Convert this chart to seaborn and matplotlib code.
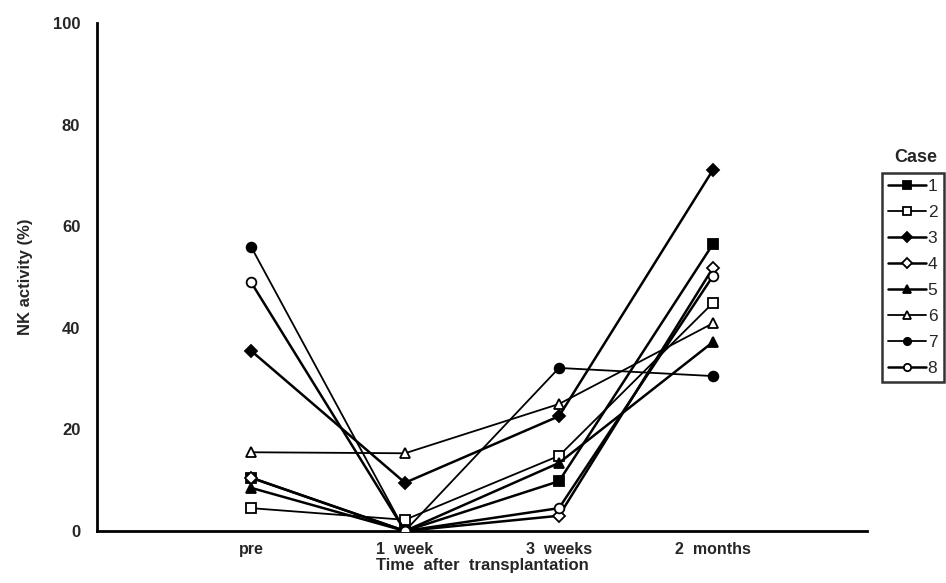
import matplotlib
matplotlib.use("Agg")
import matplotlib.pyplot as plt
import seaborn as sns
import pandas as pd

# ---- data ----
times = ["pre", "1  week", "3  weeks", "2  months"]
cases = ["1", "2", "3", "4", "5", "6", "7", "8"]
case1 = [10.5, 0.0, 9.8, 56.5]
case2 = [4.5, 2.2, 14.8, 44.9]
case3 = [35.5, 9.5, 22.6, 71.1]
case4 = [10.5, 0.0, 3.0, 51.8]
case5 = [8.5, 0.0, 13.4, 37.2]
case6 = [15.5, 15.3, 25.0, 40.9]
case7 = [56.0, 0.0, 32.1, 30.5]
case8 = [49.0, 0.0, 4.5, 50.2]
values = [case1, case2, case3, case4, case5, case6, case7, case8]

markers = ["s", "s", "D", "D", "^", "^", "o", "o"]
filled = [True, False, True, False, True, False, True, False]
widths = [1.8, 1.3, 1.8, 1.8, 1.8, 1.3, 1.3, 1.8]

rows = []
for c, vals in zip(cases, values):
    for t, v in zip(times, vals):
        rows.append({"case": c, "time": t, "nk": v})
df = pd.DataFrame(rows)

sns.set_style("white")
plt.rcParams["font.family"] = ["Liberation Sans", "DejaVu Sans"]

fig = plt.figure(figsize=(9.46, 5.83), dpi=100)
ax = fig.add_axes([0.1025, 0.0892, 0.814, 0.8713])

for i, c in enumerate(cases):
    sub = df[df["case"] == c]
    sns.lineplot(data=sub, x="time", y="nk", ax=ax, color="black",
                 linewidth=widths[i], marker=markers[i],
                 markersize=7 if markers[i] != "D" else 6.5,
                 markerfacecolor="black" if filled[i] else "white",
                 markeredgecolor="black", markeredgewidth=1.3,
                 label=c, sort=False, zorder=3)

if ax.get_legend() is not None:
    ax.get_legend().remove()

ax.set_xlim(-1, 4)
ax.set_ylim(0, 100)
ax.set_xticks([0, 1, 2, 3, 4])
ax.set_xticklabels(times + [""], fontsize=11.5, fontweight="bold")
ax.set_yticks([0, 20, 40, 60, 80, 100])
ax.set_yticklabels(["0", "20", "40", "60", "80", "100"], fontsize=12, fontweight="bold")
ax.tick_params(axis="both", direction="in", length=5, width=1.8, color="black")
ax.tick_params(axis="x", pad=8)
ax.tick_params(axis="y", pad=12)

for s in ["top", "right"]:
    ax.spines[s].set_visible(False)
for s in ["left", "bottom"]:
    ax.spines[s].set_linewidth(2)
    ax.spines[s].set_color("black")

ax.set_xlabel("Time  after  transplantation", fontsize=12, fontweight="bold", labelpad=1)
ax.set_ylabel("NK activity (%)", fontsize=12, fontweight="bold", labelpad=14)

handles, labels = ax.get_legend_handles_labels()
leg = fig.legend(handles, labels, loc="upper left", bbox_to_anchor=(0.932, 0.703),
                 bbox_transform=fig.transFigure, frameon=True, fancybox=False,
                 fontsize=12.5, handlelength=2.2, handletextpad=0.1,
                 labelspacing=0.62, borderpad=0.35, markerscale=0.75,
                 borderaxespad=0)
leg.get_frame().set_edgecolor("black")
leg.get_frame().set_linewidth(1.8)
fig.text(0.968, 0.716, "Case", fontsize=13, fontweight="bold", ha="center", va="bottom")

fig.savefig("out.png", dpi=100)
